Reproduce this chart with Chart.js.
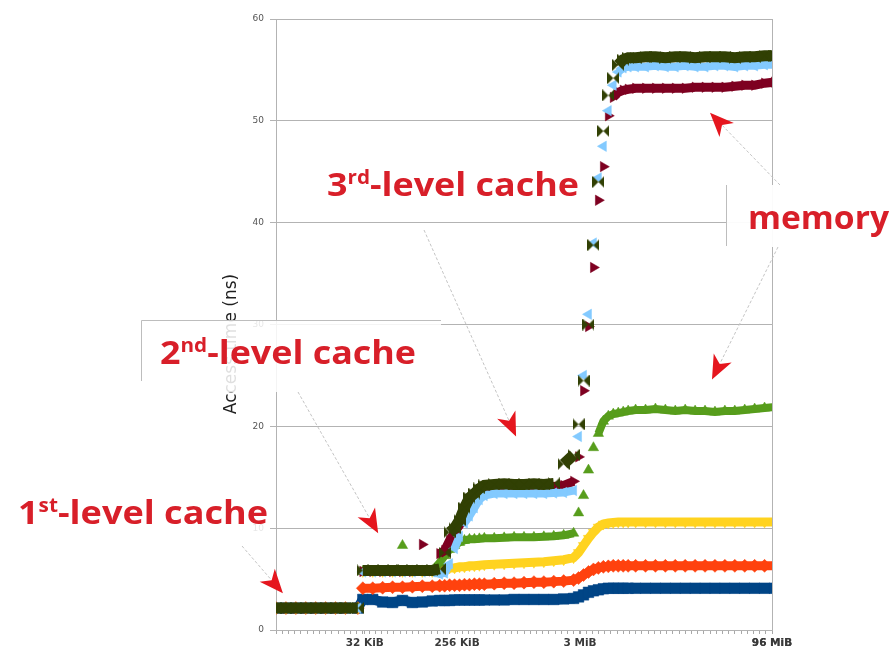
<!DOCTYPE html>
<html>
<head>
<meta charset="utf-8">
<title>Access time by working set size</title>
<script src="https://cdn.jsdelivr.net/npm/chart.js@4.4.1/dist/chart.umd.min.js"></script>
<style>
  html, body { margin: 0; padding: 0; background: #fff; }
  canvas { display: block; }
</style>
</head>
<body>
<canvas id="chart" width="893" height="658"></canvas>
<script>
// Working-set size, as a position along the size axis (sample steps)
const sizeSteps = [0, 2, 4, 6, 8, 10, 12, 14, 16.5,
  17.5, 19.5, 21.5, 23.5, 25.5, 27.5, 29.5, 31.5, 33, 34, 35, 36,
  37, 38, 39, 40, 41, 42, 44, 46, 48, 50, 52, 54, 56, 58, 60,
  61, 62, 63, 64, 65, 66, 67, 68, 69, 70, 71, 72.5, 74.5, 76.5, 78.5, 80.5, 82.5, 84.5, 86.5, 88.5, 90.5, 92.5, 94.5, 96.5, 98.5, 100.5];

// Size axis labels and where they sit on the step axis
const sizeTickPositions = [17.9, 36.5, 61.3, 100];
const sizeTickLabels = ['32 KiB', '256 KiB', '3 MiB', '96 MiB'];

// Access time (ns) per series, one value per step
const timesBlue = [2.15, 2.15, 2.15, 2.15, 2.15, 2.15, 2.15, 2.15, 2.15,
  3.0, 3.0, 2.75, 2.7, 2.9, 2.7, 2.75, 2.85, 2.9, 2.9, 2.9, 2.95,
  2.95, 2.95, 2.95, 2.95, 2.95, 2.95, 2.95, 2.95, 3.0, 3.0, 3.0, 3.0, 3.0, 3.05, 3.1,
  3.25, 3.45, 3.7, 3.85, 3.95, 4.05, 4.1, 4.1, 4.1, 4.1, 4.1, 4.1, 4.1, 4.1, 4.1, 4.1, 4.1, 4.1, 4.1, 4.1, 4.1, 4.1, 4.1, 4.1, 4.1, 4.1];
const timesOrange = [2.15, 2.15, 2.15, 2.15, 2.15, 2.15, 2.15, 2.15, 2.15,
  4.1, 4.1, 4.15, 4.2, 4.2, 4.25, 4.3, 4.3, 4.35, 4.35, 4.4, 4.4,
  4.4, 4.45, 4.45, 4.5, 4.5, 4.5, 4.55, 4.6, 4.6, 4.65, 4.7, 4.7, 4.75, 4.8, 4.9,
  5.1, 5.4, 5.7, 5.95, 6.1, 6.2, 6.25, 6.3, 6.3, 6.3, 6.3, 6.3, 6.3, 6.3, 6.3, 6.3, 6.3, 6.3, 6.3, 6.3, 6.3, 6.3, 6.3, 6.3, 6.3, 6.3];
const timesYellow = [2.15, 2.15, 2.15, 2.15, 2.15, 2.15, 2.15, 2.15, 2.15,
  5.75, 5.75, 5.75, 5.75, 5.75, 5.75, 5.75, 5.75, 5.9, 6.0, 6.1, 6.1,
  6.2, 6.2, 6.3, 6.3, 6.35, 6.4, 6.45, 6.5, 6.55, 6.6, 6.65, 6.7, 6.8, 6.9, 7.1,
  7.6, 8.3, 9.0, 9.6, 10.1, 10.4, 10.5, 10.55, 10.6, 10.6, 10.6, 10.6, 10.6, 10.6, 10.6, 10.6, 10.6, 10.6, 10.6, 10.6, 10.6, 10.6, 10.6, 10.6, 10.6, 10.6];
const timesGreen = [2.15, 2.15, 2.15, 2.15, 2.15, 2.15, 2.15, 2.15, 2.15,
  5.75, 5.75, 5.75, 5.75, 8.3, 5.8, 5.8, 5.8, 6.6, 7.3, 7.9, 8.3,
  8.6, 8.8, 8.9, 8.9, 8.95, 9.0, 9.0, 9.05, 9.1, 9.1, 9.1, 9.15, 9.2, 9.3, 9.5,
  11.5, 13.2, 15.7, 17.9, 19.3, 20.5, 21.0, 21.2, 21.3, 21.4, 21.5, 21.6, 21.6, 21.7, 21.6, 21.5, 21.6, 21.5, 21.5, 21.4, 21.5, 21.5, 21.6, 21.7, 21.8, 21.9];
const timesDarkRed = [2.15, 2.15, 2.15, 2.15, 2.15, 2.15, 2.15, 2.15, 2.15,
  5.75, 5.75, 5.75, 5.75, 5.75, 5.75, 8.4, 5.8, 7.5, 7.8, 8.8, 9.6,
  10.3, 11.3, 12.5, 13.2, 13.6, 13.9, 14.0, 14.0, 14.0, 14.0, 14.0, 14.0, 14.1, 14.2, 14.6,
  17.0, 23.5, 29.8, 35.6, 42.2, 45.5, 50.5, 52.3, 52.8, 53.0, 53.1, 53.2, 53.2, 53.2, 53.2, 53.2, 53.2, 53.3, 53.3, 53.3, 53.3, 53.4, 53.5, 53.5, 53.7, 53.8];
const timesLightBlue = [2.15, 2.15, 2.15, 2.15, 2.15, 2.15, 2.15, 2.15, 2.15,
  5.7, 5.7, 5.7, 5.7, 5.7, 5.7, 5.7, 5.7, 5.5, 5.6, 6.5, 8.0,
  9.2, 10.5, 11.2, 12.0, 12.8, 13.2, 13.4, 13.4, 13.4, 13.4, 13.4, 13.4, 13.45, 13.5, 13.7,
  19.0, 25.0, 31.0, 38.0, 44.4, 47.5, 51.0, 53.5, 54.8, 55.2, 55.3, 55.3, 55.3, 55.4, 55.3, 55.3, 55.4, 55.3, 55.3, 55.4, 55.4, 55.3, 55.4, 55.4, 55.5, 55.5];
const timesDarkGreen = [2.15, 2.15, 2.15, 2.15, 2.15, 2.15, 2.15, 2.15, 2.15,
  5.85, 5.85, 5.85, 5.85, 5.85, 5.85, 5.85, 5.85, 6.0, 7.6, 9.6, 10.0,
  10.8, 12.0, 13.0, 13.4, 13.9, 14.2, 14.3, 14.35, 14.3, 14.3, 14.35, 14.3, 14.4, 16.3, 17.2,
  20.2, 24.5, 30.0, 37.8, 44.0, 49.0, 52.5, 54.2, 55.5, 56.0, 56.2, 56.2, 56.3, 56.3, 56.2, 56.3, 56.3, 56.2, 56.3, 56.3, 56.3, 56.2, 56.3, 56.3, 56.4, 56.4];

// Marker glyph not built into Chart.js
function bowtie(color) {
  const c = document.createElement('canvas');
  c.width = 12; c.height = 12;
  const g = c.getContext('2d');
  g.fillStyle = color;
  g.beginPath();
  g.moveTo(0, 0); g.lineTo(6, 6); g.lineTo(0, 12); g.closePath();
  g.moveTo(12, 0); g.lineTo(6, 6); g.lineTo(12, 12); g.closePath();
  g.fill();
  return c;
}

function points(values) {
  return sizeSteps.map((s, i) => ({ x: s, y: values[i] })).filter(p => p.y != null);
}

// Neighbouring samples that sit close together merge into a band;
// jumps between samples stay as separate markers.
function series(values, color, style, band, extra) {
  return Object.assign({
    data: points(values),
    showLine: true,
    borderWidth: band,
    borderColor: color,
    backgroundColor: color,
    pointBackgroundColor: color,
    pointBorderColor: color,
    pointBorderWidth: 0.5,
    pointStyle: style,
    pointRadius: 6,
    tension: 0,
    segment: {
      borderColor: c => (Math.abs(c.p1.parsed.y - c.p0.parsed.y) > 1.2 ? 'rgba(0,0,0,0)' : color)
    }
  }, extra || {});
}

const datasets = [
  series(timesBlue, '#004586', 'rect', 10, { pointRadius: 7.5, order: 7 }),
  series(timesOrange, '#ff420e', 'rectRot', 9, { pointRadius: 6.5, order: 6 }),
  series(timesYellow, '#ffd320', 'triangle', 9, { pointRotation: 180, order: 5 }),
  series(timesGreen, '#579d1c', 'triangle', 8, { order: 4 }),
  series(timesDarkRed, '#7e0021', 'triangle', 9, { pointRotation: 90, order: 3 }),
  series(timesLightBlue, '#83caff', 'triangle', 8, { pointRotation: -90, order: 2 }),
  series(timesDarkGreen, '#314004', bowtie('#314004'), 11, { order: 1 })
];

// Callout boxes, labels and arrows drawn over the plot
const RED_TEXT = '#d81f29';
const RED_ARROW = '#e5161e';

function drawRichText(ctx, parts, left, baseline, width, size) {
  const fontFor = sup => `bold ${sup ? Math.round(size * 0.58) : size}px "Open Sans", "DejaVu Sans", sans-serif`;
  let natural = 0;
  parts.forEach(([t, sup]) => { ctx.font = fontFor(sup); natural += ctx.measureText(t).width; });
  ctx.save();
  ctx.translate(left, baseline);
  ctx.scale(width / natural, 1);
  ctx.fillStyle = RED_TEXT;
  ctx.textBaseline = 'alphabetic';
  ctx.textAlign = 'left';
  let cx = 0;
  parts.forEach(([t, sup]) => {
    ctx.font = fontFor(sup);
    ctx.fillText(t, cx, sup ? -size * 0.36 : 0);
    cx += ctx.measureText(t).width;
  });
  ctx.restore();
}

function drawArrow(ctx, fx, fy, tx, ty) {
  const ang = Math.atan2(ty - fy, tx - fx);
  const len = 24, half = 10;
  const cos = Math.cos(ang), sin = Math.sin(ang);
  const bx = tx - cos * len, by = ty - sin * len;
  ctx.save();
  ctx.strokeStyle = '#c4c4c4';
  ctx.lineWidth = 1;
  ctx.setLineDash([3, 2]);
  ctx.beginPath();
  ctx.moveTo(fx, fy);
  ctx.lineTo(tx - cos * len * 0.7, ty - sin * len * 0.7);
  ctx.stroke();
  ctx.setLineDash([]);
  ctx.fillStyle = RED_ARROW;
  ctx.beginPath();
  ctx.moveTo(tx, ty);
  ctx.lineTo(bx - sin * half, by + cos * half);
  ctx.lineTo(tx - cos * len * 0.72, ty - sin * len * 0.72);
  ctx.lineTo(bx + sin * half, by - cos * half);
  ctx.closePath();
  ctx.fill();
  ctx.restore();
}

const callouts = {
  id: 'callouts',
  afterDraw(chart) {
    const { ctx } = chart;
    const xs = chart.scales.x, ys = chart.scales.y;
    const px = (u, v) => [xs.getPixelForValue(u), ys.getPixelForValue(v)];

    // vertical axis title
    ctx.save();
    ctx.translate(232, 344);
    ctx.rotate(-Math.PI / 2);
    ctx.font = '17px "DejaVu Sans", sans-serif';
    ctx.fillStyle = '#1e1e1e';
    ctx.textAlign = 'center';
    ctx.textBaseline = 'middle';
    ctx.fillText('Access time (ns)', 0, 0);
    ctx.restore();

    // leader lines + arrowheads (tips are in data units)
    const arrows = [
      { from: [242, 546], tip: [1.4, 3.6] },
      { from: [298, 392], tip: [20.6, 9.5] },
      { from: [424, 230], tip: [48.4, 19.0] },
      { from: [780, 185], tip: [87.5, 50.8] },
      { from: [778, 247], tip: [87.9, 24.6] }
    ];

    // translucent text boxes
    ctx.save();
    ctx.fillStyle = 'rgba(255,255,255,0.86)';
    ctx.fillRect(0, 484, 268, 62);
    ctx.fillRect(141, 320, 300, 72);
    ctx.fillStyle = 'rgba(255,255,255,0.95)';
    ctx.fillRect(726, 185, 167, 62);
    ctx.strokeStyle = '#bdbdbd';
    ctx.lineWidth = 1;
    ctx.beginPath();
    ctx.moveTo(141.5, 381); ctx.lineTo(141.5, 320.5); ctx.lineTo(441, 320.5);
    ctx.moveTo(726.5, 185); ctx.lineTo(726.5, 246);
    ctx.stroke();
    ctx.restore();

    arrows.forEach(a => {
      const [tx, ty] = px(a.tip[0], a.tip[1]);
      drawArrow(ctx, a.from[0], a.from[1], tx, ty);
    });

    drawRichText(ctx, [['1', false], ['st', true], ['-level cache', false]], 18, 524, 250, 33);
    drawRichText(ctx, [['2', false], ['nd', true], ['-level cache', false]], 160, 364, 256, 33);
    drawRichText(ctx, [['3', false], ['rd', true], ['-level cache', false]], 327, 196, 252, 33);
    drawRichText(ctx, [['memory', false]], 748, 229, 141, 33);
  }
};

new Chart(document.getElementById('chart'), {
  type: 'scatter',
  data: { datasets },
  plugins: [callouts],
  options: {
    responsive: false,
    animation: false,
    layout: { padding: { left: 220, top: 19, right: 121, bottom: 0 } },
    plugins: { legend: { display: false }, tooltip: { enabled: false } },
    scales: {
      x: {
        type: 'linear',
        min: 0,
        max: 100,
        afterFit: s => { s.height = 28; },
        afterBuildTicks: scale => {
          const ticks = [];
          for (let v = 0; v <= 100; v += 1.25) ticks.push({ value: v });
          sizeTickPositions.forEach(v => ticks.push({ value: v }));
          ticks.sort((a, b) => a.value - b.value);
          scale.ticks = ticks;
        },
        ticks: {
          autoSkip: false,
          maxRotation: 0,
          padding: 3,
          color: '#3a3a3a',
          font: { family: 'DejaVu Sans', size: 10.5, weight: 'bold' },
          callback: value => {
            const i = sizeTickPositions.indexOf(value);
            return i >= 0 ? sizeTickLabels[i] : '';
          }
        },
        grid: {
          color: c => (c.tick && c.tick.value === 100 ? '#b3b3b3' : 'rgba(0,0,0,0)'),
          tickColor: '#a8a8a8',
          tickLength: 4
        },
        border: { display: true, color: '#b3b3b3' }
      },
      y: {
        min: 0,
        max: 60,
        afterFit: s => { s.width = 56; },
        ticks: {
          stepSize: 10,
          padding: 6,
          color: '#555',
          font: { family: 'DejaVu Sans', size: 9 }
        },
        grid: { color: '#b3b3b3', tickLength: 6 },
        border: { display: true, color: '#b3b3b3' }
      }
    }
  }
});
</script>
</body>
</html>
